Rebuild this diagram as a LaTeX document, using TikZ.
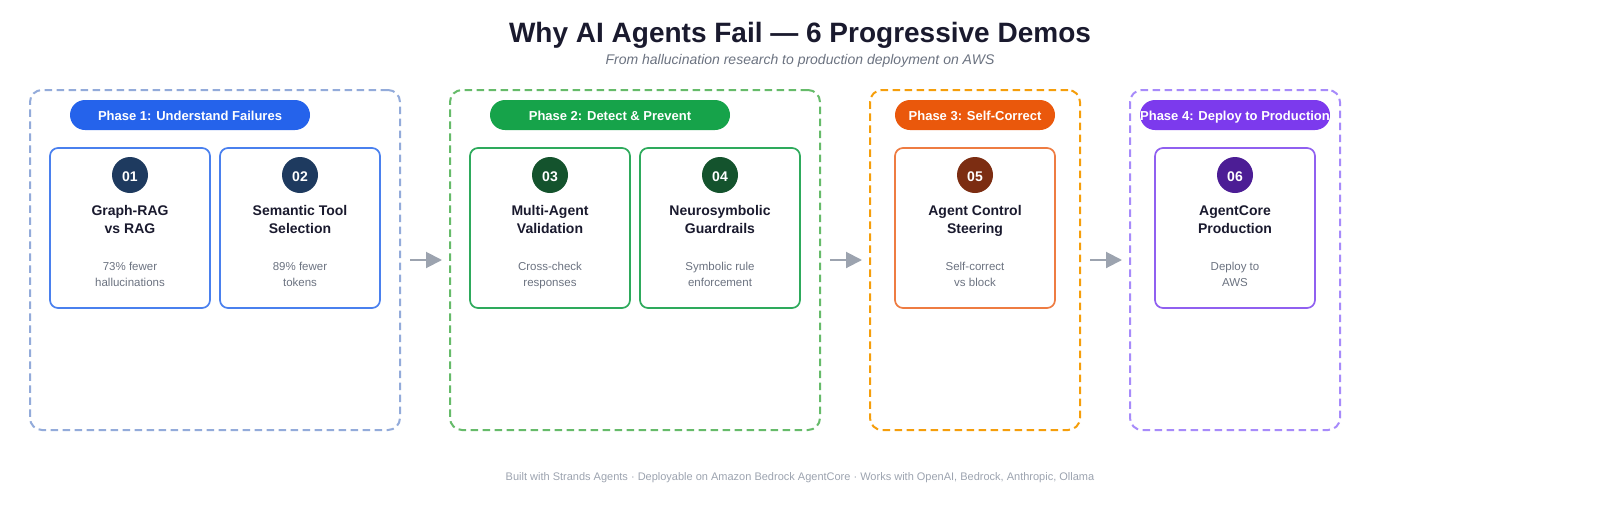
\documentclass[tikz,border=0pt]{standalone}
\usepackage{fontspec}
\setmainfont{Liberation Sans}
\usepackage{xcolor}
\usetikzlibrary{arrows.meta,positioning}
\definecolor{ink}{HTML}{1A1A2E}
\definecolor{muted}{HTML}{6B7280}
\definecolor{arrowgray}{HTML}{9CA3AF}
\definecolor{blueframe}{HTML}{93ABDA}
\definecolor{bluecard}{HTML}{4A80EE}
\definecolor{bluepill}{HTML}{2563EB}
\definecolor{bluedot}{HTML}{1E3A5F}
\definecolor{greenframe}{HTML}{66BB6A}
\definecolor{greencard}{HTML}{2EAA5C}
\definecolor{greenpill}{HTML}{16A34A}
\definecolor{greendot}{HTML}{14532D}
\definecolor{orangeframe}{HTML}{F59E0B}
\definecolor{orangecard}{HTML}{EE7C42}
\definecolor{orangepill}{HTML}{EA580C}
\definecolor{orangedot}{HTML}{7C2D12}
\definecolor{purpleframe}{HTML}{A78BFA}
\definecolor{purplecard}{HTML}{9060F0}
\definecolor{purplepill}{HTML}{7C3AED}
\definecolor{purpledot}{HTML}{4C1D95}

\begin{document}
\begin{tikzpicture}[on grid,outer sep=0pt,
    phase/.style={draw,line width=1pt,dash pattern=on 3.75pt off 2.25pt,rounded corners=6pt,minimum height=170pt},
    pill/.style={rounded corners=7.5pt,minimum height=15pt,text=white,inner sep=0pt,text height=6pt,text depth=1pt,font=\fontsize{6.5}{8}\selectfont\bfseries},
    card/.style={draw,line width=0.85pt,rounded corners=4pt,minimum width=80pt,minimum height=80pt},
    dot/.style={circle,minimum size=18pt,inner sep=0pt,text=white,text height=7pt,text depth=1pt,font=\fontsize{7}{8}\selectfont\bfseries},
    cardname/.style={align=center,inner sep=0pt,text=ink,execute at begin node=\strut,execute at end node=\strut,font=\fontsize{7}{9}\selectfont\bfseries},
    cardnote/.style={align=center,inner sep=0pt,text=muted,execute at begin node=\strut,execute at end node=\strut,font=\fontsize{5.75}{8}\selectfont},
    flow/.style={-{Triangle[length=8pt,width=8pt]},line width=1pt,arrowgray,shorten <=5pt,shorten >=4pt}]
  \useasboundingbox (0,0) rectangle (800pt,-260pt);

  \node[text height=10pt,text depth=3pt] (title) at (400pt,-17.5pt) {\fontsize{14}{17}\selectfont\bfseries\color{ink}Why AI Agents Fail — 6 Progressive Demos};
  \node[text height=5.5pt,text depth=1.5pt] (sub) [below=12.75pt of title] {\fontsize{7}{9}\selectfont\itshape\color{muted}From hallucination research to production deployment on AWS};

  % phase frames
  \node[phase,blueframe,minimum width=185pt] (P1) at (107.5pt,-130pt) {};
  \node[phase,greenframe,minimum width=185pt] (P2) [right=210pt of P1] {};
  \node[phase,orangeframe,minimum width=105pt] (P3) [right=170pt of P2] {};
  \node[phase,purpleframe,minimum width=105pt] (P4) [right=130pt of P3] {};

  % phase labels
  \node[pill,fill=bluepill,minimum width=120pt] (L1) [above left=72.5pt and 12.5pt of P1] {Phase 1: Understand Failures};
  \node[pill,fill=greenpill,minimum width=120pt] (L2) [above left=72.5pt and 12.5pt of P2] {Phase 2: Detect \& Prevent};
  \node[pill,fill=orangepill,minimum width=80pt] (L3) [above=72.5pt of P3] {Phase 3: Self-Correct};
  \node[pill,fill=purplepill,minimum width=95pt] (L4) [above=72.5pt of P4] {Phase 4: Deploy to Production};

  % cards
  \node[card,bluecard] (C1) [below left=56.5pt and 30pt of L1] {};
  \node[card,bluecard] (C2) [right=85pt of C1] {};
  \node[card,greencard] (C3) [below left=56.5pt and 30pt of L2] {};
  \node[card,greencard] (C4) [right=85pt of C3] {};
  \node[card,orangecard] (C5) [below=56.5pt of L3] {};
  \node[card,purplecard] (C6) [below=56.5pt of L4] {};

  % numbers
  \node[dot,fill=bluedot] (D1) [above=26.5pt of C1] {01};
  \node[dot,fill=bluedot] (D2) [above=26.5pt of C2] {02};
  \node[dot,fill=greendot] (D3) [above=26.5pt of C3] {03};
  \node[dot,fill=greendot] (D4) [above=26.5pt of C4] {04};
  \node[dot,fill=orangedot] (D5) [above=26.5pt of C5] {05};
  \node[dot,fill=purpledot] (D6) [above=26.5pt of C6] {06};

  % names
  \node[cardname] (N1) [below=23.5pt of D1] {Graph-RAG\\vs RAG};
  \node[cardname] (N2) [below=23.5pt of D2] {Semantic Tool\\Selection};
  \node[cardname] (N3) [below=23.5pt of D3] {Multi-Agent\\Validation};
  \node[cardname] (N4) [below=23.5pt of D4] {Neurosymbolic\\Guardrails};
  \node[cardname] (N5) [below=23.5pt of D5] {Agent Control\\Steering};
  \node[cardname] (N6) [below=23.5pt of D6] {AgentCore\\Production};

  % notes
  \node[cardnote] (T1) [below=27.5pt of N1] {73\% fewer\\hallucinations};
  \node[cardnote] (T2) [below=27.5pt of N2] {89\% fewer\\tokens};
  \node[cardnote] (T3) [below=27.5pt of N3] {Cross-check\\responses};
  \node[cardnote] (T4) [below=27.5pt of N4] {Symbolic rule\\enforcement};
  \node[cardnote] (T5) [below=27.5pt of N5] {Self-correct\\vs block};
  \node[cardnote] (T6) [below=27.5pt of N6] {Deploy to\\AWS};

  \path (P1) edge [flow] (P2)
        (P2) edge [flow] (P3)
        (P3) edge [flow] (P4);

  \node[text height=4.5pt,text depth=1pt] (foot) at (400pt,-238.25pt) {\fontsize{5.5}{7}\selectfont\color{arrowgray}Built with Strands Agents · Deployable on Amazon Bedrock AgentCore · Works with OpenAI, Bedrock, Anthropic, Ollama};
\end{tikzpicture}
\end{document}
